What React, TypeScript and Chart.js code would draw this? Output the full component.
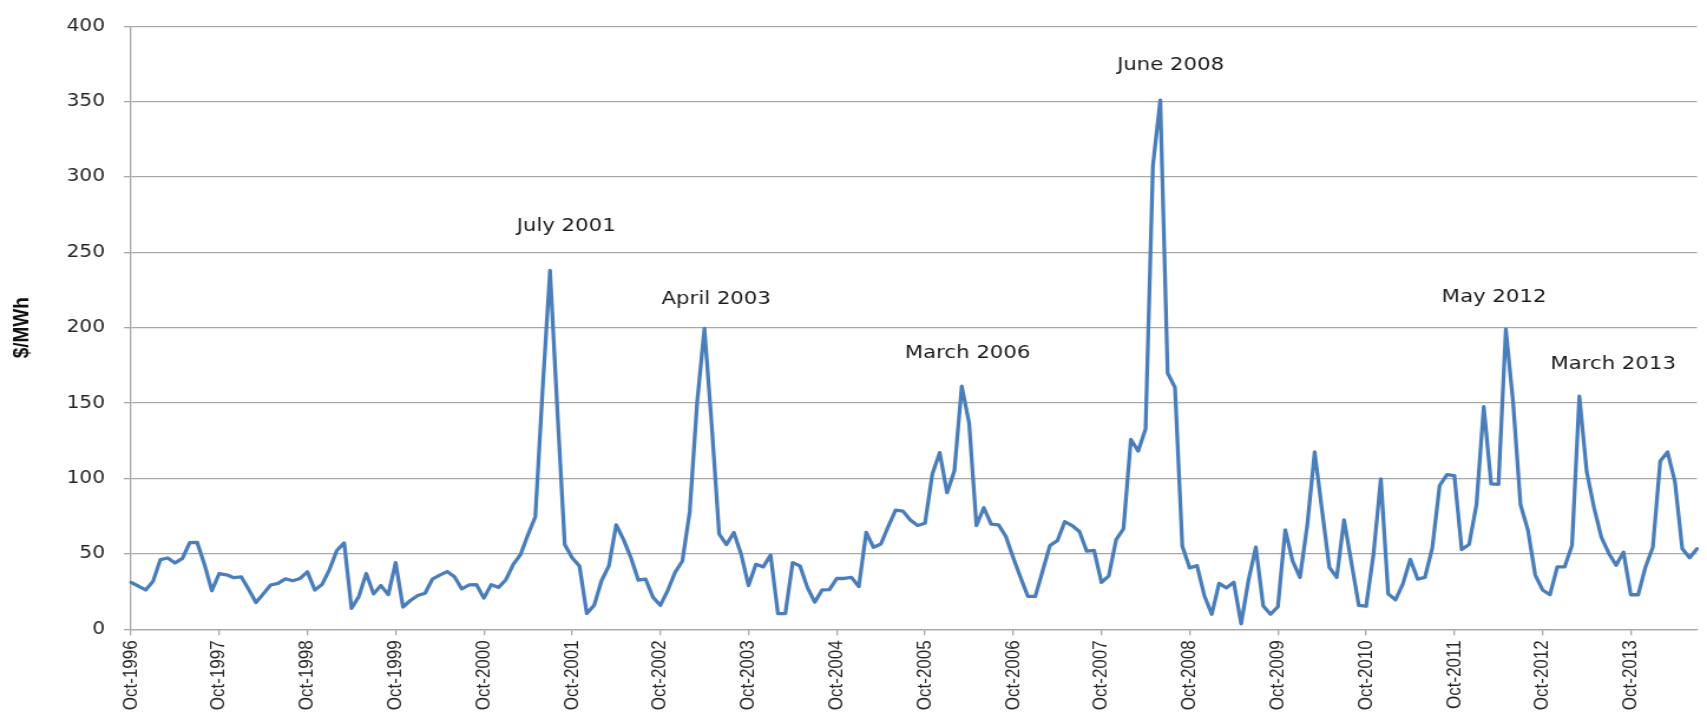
import React, { useEffect, useRef } from "react";
import { Chart, registerables } from "chart.js";

Chart.register(...registerables);

// Monthly series, Oct-1996 .. Jul-2014 ($/MWh)
const startYear = 1996;
const startMonth = 9; // October (0-based)
const monthNames = ["Jan", "Feb", "Mar", "Apr", "May", "Jun", "Jul", "Aug", "Sep", "Oct", "Nov", "Dec"];

const prices = [
  31.1, 28.7, 26.1, 31.8, 46.2, 47.3, 44, 47, 57.5, 57.7, 43, 25.6,
  37, 36.1, 34.2, 34.8, 26.5, 17.8, 23.5, 29.4, 30.5, 33.5, 32.2, 33.7,
  38.1, 26.1, 29.8, 39.6, 52.3, 57.3, 13.9, 21.8, 37, 23.5, 29, 23,
  44.2, 14.8, 19.1, 22.4, 23.9, 33.3, 35.9, 38.3, 34.8, 26.8, 29.4, 29.6,
  20.7, 29.6, 27.8, 32.9, 43.1, 49.7, 62.7, 74.7, 160, 238, 145, 56.2,
  47.5, 42, 10.5, 15.9, 32.2, 42, 69.3, 59.5, 47.5, 32.7, 33.3, 21.3,
  15.9, 25.7, 37.7, 45.3, 78, 150, 199.5, 135, 63.2, 56.2, 64.2, 49.7,
  29, 43.1, 41.4, 49.2, 10.4, 10.4, 44.2, 42, 27.8, 18, 26.1, 26.3,
  33.7, 33.7, 34.4, 28.3, 64.2, 54.4, 56.6, 68.2, 79, 78.4, 72.5, 68.8,
  70.3, 103, 117.2, 90.6, 105.2, 161.2, 136.8, 68.8, 80.6, 69.7, 69.3, 61.6,
  47.5, 34.4, 21.8, 21.8, 38.8, 55.6, 58.8, 71.4, 68.8, 64.9, 51.8, 52.3,
  31.1, 35.5, 59.5, 66.7, 125.9, 118.3, 132.9, 307.5, 351, 170, 160.5, 55.1,
  40.7, 42.2, 22.3, 10, 30.5, 27.5, 31.2, 3.7, 32.5, 54.5, 15.5, 10,
  15, 66, 45.3, 34.4, 69.3, 117.6, 79.1, 41, 34.4, 72.5, 44.2, 15.9,
  15.3, 49.7, 99.8, 23.5, 19.6, 30.1, 46.4, 33.3, 34.4, 54, 95.4, 102.6,
  102, 52.9, 56.2, 82.4, 147.7, 96.5, 96.1, 199, 150, 82.6, 66, 36,
  26.1, 22.9, 41.4, 41.4, 55.6, 154.7, 104.6, 80.6, 61, 50.5, 42.5, 51.2,
  22.9, 22.9, 41.4, 54.5, 111.5, 117.6, 98, 53.4, 47.5, 53.4,
];

const monthLabels = prices.map((_, i) => {
  const m = startMonth + i;
  return `${monthNames[m % 12]}-${startYear + Math.floor(m / 12)}`;
});

const xTickLabels = [
  "Oct-1996", "Oct-1997", "Oct-1998", "Oct-1999", "Oct-2000", "Oct-2001",
  "Oct-2002", "Oct-2003", "Oct-2004", "Oct-2005", "Oct-2006", "Oct-2007",
  "Oct-2008", "Oct-2009", "Oct-2010", "Oct-2011", "Oct-2012", "Oct-2013",
];

const yTicks = [0, 50, 100, 150, 200, 250, 300, 350, 400];

// Peak annotations: text, anchor in (month index, $/MWh)
const annotationTexts = ["July 2001", "April 2003", "March 2006", "June 2008", "May 2012", "March 2013"];
const annotationX = [59.2, 79.6, 113.8, 141.4, 185.4, 201.6];
const annotationY = [267, 219, 183, 374, 220, 176];

const STRETCH = 1707 / 1447;
const GRID = "#A8A8A8";

// y-axis box geometry (canvas px). Chart.js fit(): tickLen + title + widest + 2*padding
const TICK_SIZE = 17;
const TITLE_SIZE = 19;
const TICK_LEN = 6;
const TICK_PAD = 16;
const TITLE_TOP = 7;
const WIDEST_LABEL = 3 * 0.6362 * TICK_SIZE; // "400" in DejaVu Sans
const TITLE_BOTTOM = Math.max(
  0,
  111 - (TITLE_SIZE * 1.2 + TITLE_TOP + WIDEST_LABEL + TICK_LEN + 2 * TICK_PAD)
);

export default function App() {
  const ref = useRef<HTMLCanvasElement | null>(null);

  useEffect(() => {
    if (!ref.current) return;
    const canvas = ref.current;

    const annotationPlugin = {
      id: "peakLabels",
      afterDatasetsDraw(chart: any) {
        const { ctx, scales } = chart;
        ctx.save();
        ctx.font = "18px 'DejaVu Sans'";
        ctx.fillStyle = "#1a1a1a";
        ctx.textAlign = "center";
        ctx.textBaseline = "middle";
        annotationTexts.forEach((t, i) => {
          const x = scales.x.getPixelForValue(annotationX[i]);
          const y = scales.y.getPixelForValue(annotationY[i]);
          ctx.fillText(t, x, y);
        });
        ctx.restore();
      },
    };

    const chart = new Chart(canvas, {
      type: "line",
      data: {
        labels: monthLabels,
        datasets: [
          {
            data: prices,
            borderColor: "#4A7EBB",
            borderWidth: 3.3,
            pointRadius: 0,
            tension: 0,
            fill: false,
            borderJoinStyle: "round",
            borderCapStyle: "round",
          },
        ],
      },
      options: {
        animation: false,
        responsive: false,
        devicePixelRatio: 1,
        layout: { padding: { left: 0, right: 8.5, top: 17.3, bottom: 0 } },
        plugins: { legend: { display: false }, tooltip: { enabled: false } },
        scales: {
          x: {
            type: "category",
            offset: false,
            afterFit: (scale: any) => {
              scale.height = 87.7;
            },
            border: { display: true, color: GRID, width: 1.3 },
            grid: {
              drawOnChartArea: false,
              drawTicks: true,
              tickLength: 6,
              color: GRID,
              lineWidth: 1.3,
            },
            ticks: {
              autoSkip: false,
              maxRotation: 90,
              minRotation: 90,
              padding: 5,
              color: "#262626",
              font: { family: "'Liberation Sans', Arial, sans-serif", size: 17 },
              callback: function (this: any, value: any) {
                const lab = this.getLabelForValue(value);
                return xTickLabels.includes(lab) ? lab : null;
              },
            },
          },
          y: {
            min: 0,
            max: 400,
            afterBuildTicks: (scale: any) => {
              scale.ticks = yTicks.map((v) => ({ value: v }));
            },
            border: { display: true, color: GRID, width: 1.3 },
            grid: {
              color: GRID,
              lineWidth: 1.3,
              drawTicks: true,
              tickLength: TICK_LEN,
            },
            ticks: {
              padding: TICK_PAD,
              color: "#262626",
              font: { family: "'DejaVu Sans', sans-serif", size: TICK_SIZE },
            },
            title: {
              display: true,
              text: "$/MWh",
              color: "#111",
              padding: { top: TITLE_TOP, bottom: TITLE_BOTTOM },
              font: { family: "'Liberation Sans', Arial, sans-serif", size: TITLE_SIZE, weight: "bold" },
            },
          },
        },
      },
      plugins: [annotationPlugin],
    });
    return () => chart.destroy();
  }, []);

  return (
    <div
      style={{
        position: "absolute",
        left: 0,
        top: 0,
        width: 1707,
        height: 717,
        overflow: "hidden",
        background: "#fff",
      }}
    >
      <canvas
        ref={ref}
        width={1447}
        height={717}
        style={{
          display: "block",
          width: "1447px",
          height: "717px",
          transform: `scaleX(${STRETCH})`,
          transformOrigin: "0 0",
        }}
      />
    </div>
  );
}
